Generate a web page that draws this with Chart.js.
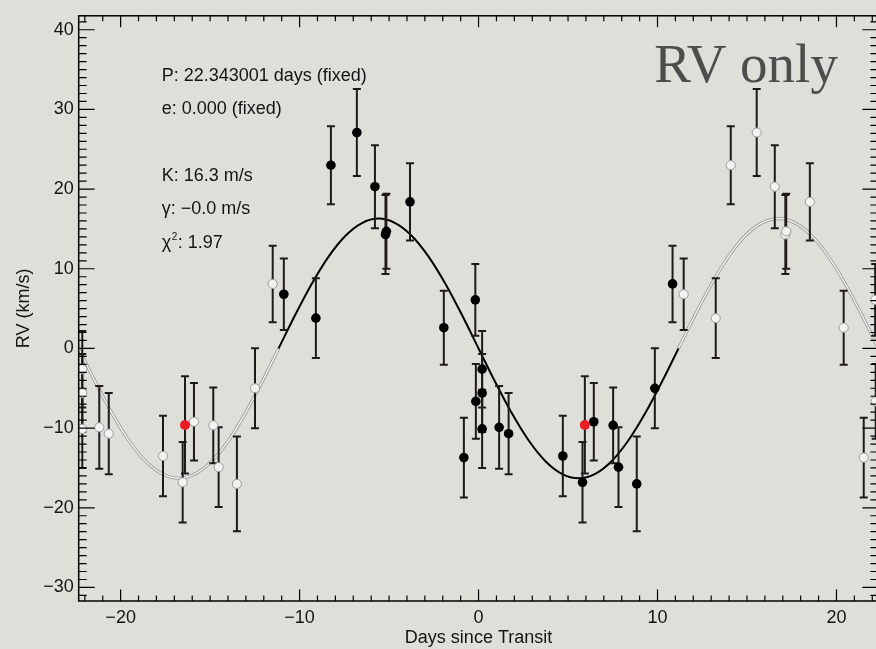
<!DOCTYPE html>
<html>
<head>
<meta charset="utf-8">
<title>RV only</title>
<script src="https://cdn.jsdelivr.net/npm/chart.js@4"></script>
<style>
  html, body { margin: 0; padding: 0; background: #dfdfda; overflow: hidden; }
  #wrap { width: 884px; height: 649px; position: relative; }
</style>
</head>
<body>
<div id="wrap"><canvas id="rvChart"></canvas></div>
<script>
// rv phase plot

const PERIOD = 22.343001;

// folded observations: days since transit, RV (km/s), 1-sigma error
const obsDays = [-10.88, -9.09, -8.25, -6.80, -5.79, -5.20, -5.15, -3.83, -1.94, -0.82,
                 -0.18, -0.15, 0.20, 0.20, 0.20, 1.15, 1.68, 4.71, 5.81, 5.94,
                 6.44, 7.52, 7.82, 8.84, 9.85, 10.84];
const obsRV   = [6.8, 3.8, 23.0, 27.1, 20.3, 14.3, 14.7, 18.4, 2.6, -13.7,
                 6.1, -6.65, -2.6, -5.6, -10.1, -9.9, -10.7, -13.5, -16.8, -9.6,
                 -9.2, -9.65, -14.9, -17.0, -5.0, 8.1];
const obsErr  = [4.5, 5.0, 4.9, 5.45, 5.2, 4.95, 4.7, 4.85, 4.65, 5.0,
                 4.5, 4.7, 4.8, 4.9, 4.9, 5.2, 5.1, 5.05, 5.05, 6.1,
                 4.85, 4.75, 5.0, 5.95, 5.03, 4.8];
const highlighted = [19];   // the red point

// model curve
const curveDays = [-22.343, -21.412, -20.481, -19.550, -18.619, -17.688, -16.757, -15.826,
                   -14.895, -13.964, -13.033, -12.102, -11.172, -10.241, -9.310, -8.379,
                   -7.448, -6.517, -5.586, -4.655, -3.724, -2.793, -1.862, -0.931, 0,
                   0.931, 1.862, 2.793, 3.724, 4.655, 5.586, 6.517, 7.448, 8.379, 9.310,
                   10.241, 11.172, 12.102, 13.033, 13.964, 14.895, 15.826, 16.757, 17.688,
                   18.619, 19.550, 20.481, 21.412, 22.343];
const curveRV   = [0, -4.22, -8.15, -11.53, -14.12, -15.74, -16.3, -15.74,
                   -14.12, -11.53, -8.15, -4.22, 0, 4.22, 8.15, 11.53,
                   14.12, 15.74, 16.3, 15.74, 14.12, 11.53, 8.15, 4.22, 0,
                   -4.22, -8.15, -11.53, -14.12, -15.74, -16.3, -15.74, -14.12, -11.53, -8.15,
                   -4.22, 0, 4.22, 8.15, 11.53, 14.12, 15.74, 16.3, 15.74,
                   14.12, 11.53, 8.15, 4.22, 0];

const xTicks = [-20, -10, 0, 10, 20];
const yTicks = [-30, -20, -10, 0, 10, 20, 30, 40];
const yMin = -31.7;
const yMax = 41.75;

const fitLines = ["P: 22.343001 days (fixed)", "e: 0.000 (fixed)", "", "K: 16.3 m/s", "γ: −0.0 m/s", "χ²: 1.97"];
const panelTitle = "RV only";

const FONT = "'Liberation Sans', Arial, sans-serif";
const INK = "#141414";
const BAR = "#1f1a1a";
const RED = "#ea1d25";

function fmt(v) {
  return v < 0 ? "\u2212" + Math.abs(v) : String(v);
}

// build point sets
const blackPts = [];
const redPts = [];
const ghostPts = [];
obsDays.forEach((d, i) => {
  const p = { x: d, y: obsRV[i], err: obsErr[i] };
  const isRed = highlighted.includes(i);
  (isRed ? redPts : blackPts).push(p);
  [-PERIOD, PERIOD].forEach(shift => {
    const gx = d + shift;
    if (gx >= -PERIOD && gx <= PERIOD) {
      const g = { x: gx, y: obsRV[i], err: obsErr[i] };
      (isRed ? redPts : ghostPts).push(g);
    }
  });
});

const modelPts = [];
const modelWrap = [];
curveDays.forEach((d, i) => {
  const p = { x: d, y: curveRV[i] };
  if (Math.abs(d) <= PERIOD / 2 + 0.001) modelPts.push(p);
  if (Math.abs(d) >= PERIOD / 2 - 0.001) modelWrap.push(p);
  if (Math.abs(d) < 0.001) modelWrap.push({ x: 0, y: null }); // break between the two wings
});

const errorBars = {
  id: "errorBars",
  afterDatasetDraw(chart, args) {
    if (chart.data.datasets[args.index].label !== "Model") return;
    const { ctx, chartArea: a, scales: { x, y } } = chart;
    ctx.save();
    ctx.beginPath();
    ctx.rect(a.left, a.top, a.right - a.left, a.bottom - a.top);
    ctx.clip();
    ctx.strokeStyle = BAR;
    ctx.lineWidth = 2;
    chart.data.datasets.forEach(ds => {
      if (!ds.errorBars) return;
      ds.data.forEach(p => {
        const px = x.getPixelForValue(p.x);
        const top = y.getPixelForValue(p.y + p.err);
        const bot = y.getPixelForValue(p.y - p.err);
        ctx.beginPath();
        ctx.moveTo(px, top); ctx.lineTo(px, bot);
        ctx.moveTo(px - 4, top); ctx.lineTo(px + 4, top);
        ctx.moveTo(px - 4, bot); ctx.lineTo(px + 4, bot);
        ctx.stroke();
      });
    });
    ctx.restore();
  }
};

// box + inward ticks, idl style
const frame = {
  id: "frame",
  afterDatasetsDraw(chart) {
    const { ctx, chartArea: a, scales: { x, y } } = chart;
    ctx.save();
    ctx.strokeStyle = "#000";
    ctx.lineWidth = 1.2;
    ctx.beginPath();
    for (let v = Math.ceil(x.min); v <= Math.floor(x.max); v++) {
      const px = x.getPixelForValue(v);
      const len = v % 10 === 0 ? 11.5 : 5.5;
      ctx.moveTo(px, a.bottom); ctx.lineTo(px, a.bottom - len);
      ctx.moveTo(px, a.top); ctx.lineTo(px, a.top + len);
    }
    for (let v = Math.ceil(y.min); v <= Math.floor(y.max); v++) {
      const py = y.getPixelForValue(v);
      const len = v % 10 === 0 ? 16 : 8;
      ctx.moveTo(a.left, py); ctx.lineTo(a.left + len, py);
      ctx.moveTo(a.right, py); ctx.lineTo(a.right - len, py);
    }
    ctx.stroke();
    ctx.lineWidth = 1.5;
    ctx.strokeRect(a.left, a.top, a.right - a.left, a.bottom - a.top);

    // fit summary
    ctx.fillStyle = INK;
    ctx.textBaseline = "alphabetic";
    ctx.textAlign = "left";
    const tx = a.left + 83;
    fitLines.forEach((line, i) => {
      if (!line) return;
      const by = a.top + 65 + i * 33.35;
      if (line.startsWith("χ²")) {
        ctx.font = "18px " + FONT;
        ctx.fillText("χ", tx, by);
        let w = ctx.measureText("χ").width;
        ctx.font = "10px " + FONT;
        ctx.fillText("2", tx + w + 0.5, by - 8);
        w += ctx.measureText("2").width + 1;
        ctx.font = "18px " + FONT;
        ctx.fillText(line.slice(2), tx + w, by);
      } else {
        ctx.font = "18px " + FONT;
        ctx.fillText(line, tx, by);
      }
    });

    ctx.font = "55px 'Liberation Serif', 'DejaVu Serif', serif";
    ctx.fillStyle = "#4d4d4d";
    ctx.textAlign = "right";
    ctx.fillText(panelTitle, a.right - 40.5, a.top + 65.7);
    ctx.restore();
  }
};

Chart.defaults.font.family = FONT;
Chart.defaults.color = INK;

new Chart(document.getElementById("rvChart"), {
  type: "scatter",
  data: {
    datasets: [
      {
        label: "Highlighted",
        data: redPts,
        errorBars: true,
        order: 0,
        pointRadius: 5,
        pointBackgroundColor: RED,
        pointBorderWidth: 0,
        clip: 0
      },
      {
        label: "Data",
        data: blackPts,
        errorBars: true,
        order: 1,
        pointRadius: 4.8,
        pointBackgroundColor: "#000",
        pointBorderWidth: 0,
        clip: 0
      },
      {
        label: "Data (wrapped)",
        data: ghostPts,
        errorBars: true,
        order: 2,
        pointRadius: 4.6,
        pointBackgroundColor: "#f2f2f0",
        pointBorderColor: "#9a9a9a",
        pointBorderWidth: 1,
        clip: 0
      },
      {
        label: "Model",
        type: "line",
        data: modelPts,
        order: 3,
        showLine: true,
        borderColor: "#000",
        borderWidth: 2,
        pointRadius: 0,
        cubicInterpolationMode: "monotone",
        fill: false,
        clip: 0
      },
      {
        label: "Model (wrapped, core)",
        type: "line",
        data: modelWrap,
        order: 4,
        showLine: true,
        spanGaps: false,
        borderColor: "#f7f7f5",
        borderWidth: 1.2,
        pointRadius: 0,
        cubicInterpolationMode: "monotone",
        fill: false,
        clip: 0
      },
      {
        label: "Model (wrapped, edge)",
        type: "line",
        data: modelWrap,
        order: 5,
        showLine: true,
        spanGaps: false,
        borderColor: "#a2a2a2",
        borderWidth: 3.2,
        pointRadius: 0,
        cubicInterpolationMode: "monotone",
        fill: false,
        clip: 0
      }
    ]
  },
  options: {
    responsive: true,
    maintainAspectRatio: false,
    animation: false,
    layout: { padding: { top: 13.3, right: 5.4, left: 0, bottom: 0 } },
    plugins: {
      legend: { display: false },
      tooltip: { enabled: false }
    },
    scales: {
      x: {
        type: "linear",
        min: -PERIOD,
        max: PERIOD,
        afterBuildTicks: s => { s.ticks = xTicks.map(v => ({ value: v })); },
        afterFit: s => { s.height = 48; },
        grid: { display: false, drawTicks: false },
        border: { display: false },
        ticks: {
          padding: 6.5,
          autoSkip: false,
          maxRotation: 0,
          color: INK,
          font: { size: 18 },
          callback: v => fmt(v)
        },
        title: {
          display: true,
          text: "Days since Transit",
          color: INK,
          font: { size: 18 },
          padding: 0
        }
      },
      y: {
        type: "linear",
        min: yMin,
        max: yMax,
        afterBuildTicks: s => { s.ticks = yTicks.map(v => ({ value: v })); },
        afterFit: s => { s.width = 78.7; },
        grid: { display: false, drawTicks: false },
        border: { display: false },
        ticks: {
          padding: 5,
          autoSkip: false,
          color: INK,
          font: { size: 18 },
          callback: v => fmt(v)
        },
        title: {
          display: true,
          text: "RV (km/s)",
          color: INK,
          font: { size: 18 },
          padding: { top: 13, bottom: 0 }
        }
      }
    }
  },
  plugins: [errorBars, frame]
});
</script>
</body>
</html>
